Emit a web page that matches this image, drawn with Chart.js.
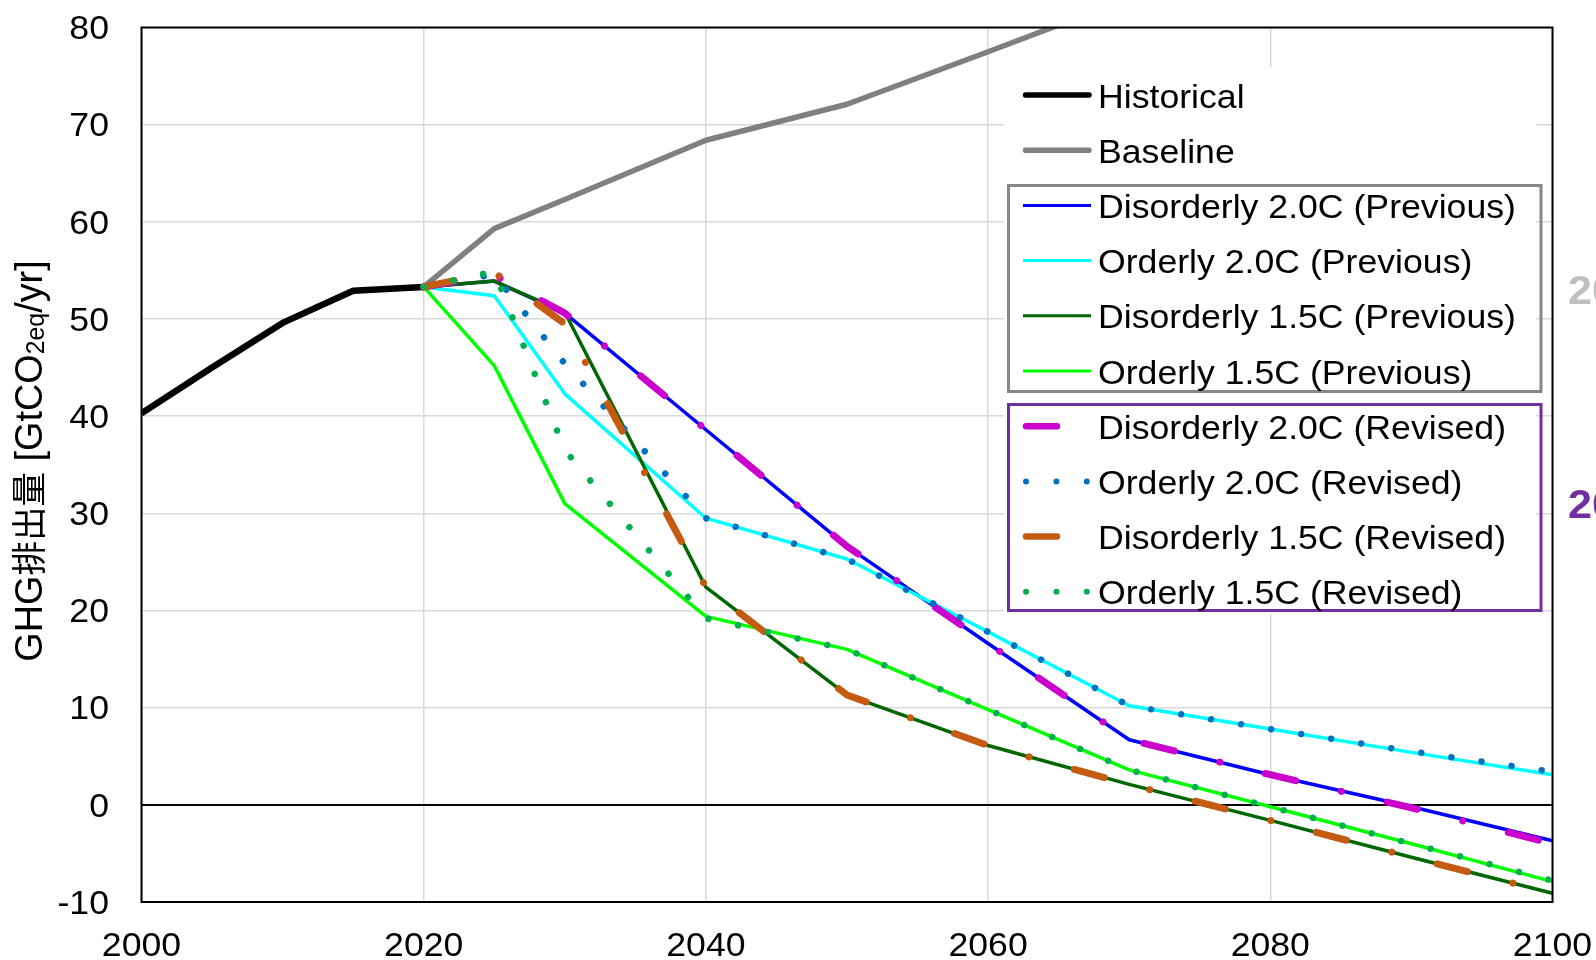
<!DOCTYPE html>
<html>
<head>
<meta charset="utf-8">
<title>GHG emissions scenarios</title>
<script src="https://cdn.jsdelivr.net/npm/chart.js@4.4.0/dist/chart.umd.min.js"></script>
<style>
  html, body { margin: 0; padding: 0; background: #fff; }
  #wrap { width: 1596px; height: 960px; position: relative; }
</style>
</head>
<body>
<div id="wrap"><canvas id="ghgChart"></canvas></div>
<script>
// ---- data (GtCO2eq/yr) ----
const histYears = [2000, 2005, 2010, 2015, 2020];
const historical = [40.3, 45.0, 49.6, 52.9, 53.3];

const baseYears = [2020, 2025, 2030, 2040, 2050, 2060, 2070];
const baseline = [53.3, 59.3, 62.3, 68.4, 72.1, 77.5, 83.0];

const scenYears = [2020, 2025, 2030, 2040, 2050, 2060, 2070, 2080, 2090, 2100];
const dis20Prev = [53.3, 53.9, 50.6, 38.6, 26.6, 16.6, 6.7, 3.1, -0.2, -3.7];
const ord20Prev = [53.3, 52.4, 42.3, 29.5, 25.3, 17.8, 10.2, 7.8, 5.4, 3.1];
const dis15Prev = [53.3, 53.9, 50.7, 22.4, 11.3, 6.1, 2.1, -1.6, -5.4, -9.1];
const ord15Prev = [53.3, 45.2, 31.0, 19.4, 16.0, 9.8, 3.6, -0.2, -4.0, -7.9];
const dis20Rev = [53.3, 54.5, 50.6, 38.6, 26.6, 16.6, 6.7, 3.1, -0.3, -4.0];
const ord20Rev = [53.3, 54.6, 45.4, 29.5, 25.3, 17.8, 10.2, 7.8, 5.5, 3.4];
const dis15Rev = [53.3, 54.8, 49.5, 22.4, 11.3, 6.1, 2.1, -1.6, -5.4, -9.1];
const ord15Rev = [53.3, 54.9, 36.5, 19.2, 16.0, 9.8, 3.6, -0.2, -4.0, -7.8];

const seriesNames = [
  "Historical",
  "Baseline",
  "Disorderly 2.0C (Previous)",
  "Orderly 2.0C (Previous)",
  "Disorderly 1.5C (Previous)",
  "Orderly 1.5C (Previous)",
  "Disorderly 2.0C (Revised)",
  "Orderly 2.0C (Revised)",
  "Disorderly 1.5C (Revised)",
  "Orderly 1.5C (Revised)",
];
const seriesYears = [histYears, baseYears, scenYears, scenYears, scenYears, scenYears, scenYears, scenYears, scenYears, scenYears];
const seriesValues = [historical, baseline, dis20Prev, ord20Prev, dis15Prev, ord15Prev, dis20Rev, ord20Rev, dis15Rev, ord15Rev];

const xTicks = [2000, 2020, 2040, 2060, 2080, 2100];
const yTicks = [-10, 0, 10, 20, 30, 40, 50, 60, 70, 80];
const yTitleHead = "GHG";
const yTitleCjk = "排出量";
const yTitleMain = " [GtCO";
const yTitleSub = "2eq";
const yTitleEnd = "/yr]";
const sideLabels = ["20", "20"];

// ---- styles ----
const dashDot = [31, 47, 0.01, 47];
const dotted = [0.01, 30.4];
const styles = [
  { color: "#000000", width: 6.5, dash: [] },
  { color: "#808080", width: 5.5, dash: [] },
  { color: "#0000ff", width: 3.5, dash: [] },
  { color: "#00ffff", width: 3.5, dash: [] },
  { color: "#006600", width: 3.5, dash: [] },
  { color: "#00ff00", width: 3.5, dash: [] },
  { color: "#cc00cc", width: 7, dash: dashDot },
  { color: "#0070c0", width: 6.5, dash: dotted },
  { color: "#c55a11", width: 7, dash: dashDot },
  { color: "#00b050", width: 6.5, dash: dotted },
];

const STRETCH = 1.08; // reference text is a bit wide
const FONT = "'Liberation Sans', Arial, sans-serif";
const CJK = "'Noto Sans CJK JP', sans-serif";

function wideText(ctx, text, x, y, align, font, color) {
  ctx.save();
  ctx.font = font;
  ctx.fillStyle = color;
  ctx.textAlign = align;
  ctx.textBaseline = "alphabetic";
  ctx.translate(x, y);
  ctx.scale(STRETCH, 1);
  ctx.fillText(text, 0, 0);
  ctx.restore();
}

const datasets = seriesNames.map((name, i) => ({
  label: name,
  data: seriesYears[i].map((yr, k) => ({ x: yr, y: seriesValues[i][k] })),
  borderColor: styles[i].color,
  backgroundColor: styles[i].color,
  borderWidth: styles[i].width,
  borderDash: styles[i].dash,
  borderCapStyle: styles[i].dash.length ? "round" : "butt",
  borderJoinStyle: "round",
  pointRadius: 0,
  tension: 0,
  fill: false,
  order: seriesNames.length - i, // later series on top
}));

// labels, title, legend and frame drawn on top
const overlay = {
  id: "overlay",
  afterDraw(chart) {
    const ctx = chart.ctx;
    const area = chart.chartArea;
    const xs = chart.scales.x;
    const ys = chart.scales.y;

    // tick labels
    xs.ticks.forEach((t) => {
      wideText(ctx, String(t.value), xs.getPixelForValue(t.value), area.bottom + 53.5, "center", "33px " + FONT, "#000");
    });
    ys.ticks.forEach((t) => {
      wideText(ctx, String(t.value), area.left - 32.5, ys.getPixelForValue(t.value) + 11.8, "right", "33px " + FONT, "#000");
    });

    // y title with subscript
    const parts = [
      { t: yTitleHead, f: "35px " + FONT, dy: 12 },
      { t: yTitleCjk, f: "32px " + CJK, dy: 12 },
      { t: yTitleMain, f: "35px " + FONT, dy: 12 },
      { t: yTitleSub, f: "23px " + FONT, dy: 14 },
      { t: yTitleEnd, f: "35px " + FONT, dy: 12 },
    ];
    ctx.save();
    ctx.translate(29, 461);
    ctx.scale(1.1, 1.08);
    ctx.rotate(-Math.PI / 2);
    ctx.fillStyle = "#000";
    ctx.textBaseline = "alphabetic";
    ctx.textAlign = "left";
    let total = 0;
    parts.forEach((p) => { ctx.font = p.f; p.w = ctx.measureText(p.t).width; total += p.w; });
    let px = -total / 2;
    parts.forEach((p) => { ctx.font = p.f; ctx.fillText(p.t, px, p.dy); px += p.w; });
    ctx.restore();

    // legend
    ctx.save();
    ctx.fillStyle = "#fff";
    ctx.fillRect(1004, 67, 532, 547);
    ctx.lineWidth = 3;
    ctx.strokeStyle = "#878787";
    ctx.strokeRect(1008.5, 185.5, 532.5, 206);
    ctx.strokeStyle = "#7030a0";
    ctx.strokeRect(1008.5, 404.5, 532.5, 206);
    ctx.restore();

    seriesNames.forEach((name, i) => {
      const st = styles[i];
      const cy = 95 + 55.2 * i;
      ctx.save();
      ctx.strokeStyle = st.color;
      ctx.lineWidth = i < 2 ? 5.5 : (st.dash.length ? st.width - 0.5 : 3);
      ctx.setLineDash(st.dash);
      ctx.lineCap = (i < 2 || st.dash.length) ? "round" : "butt";
      ctx.beginPath();
      if (i < 2) { ctx.moveTo(1025.5, cy); ctx.lineTo(1089, cy); }
      else if (st.dash.length) { ctx.moveTo(1026, cy); ctx.lineTo(1089, cy); }
      else { ctx.moveTo(1023, cy); ctx.lineTo(1091, cy); }
      ctx.stroke();
      ctx.restore();
      wideText(ctx, name, 1098, cy + 12.5, "left", "33px " + FONT, "#000");
    });

    // plot frame
    ctx.save();
    ctx.strokeStyle = "#000";
    ctx.lineWidth = 2;
    ctx.strokeRect(area.left, area.top, area.right - area.left, area.bottom - area.top);
    ctx.restore();

    // labels cut off at the right edge
    wideText(ctx, sideLabels[0], 1568, 303.5, "left", "bold 40px " + FONT, "#bfbfbf");
    wideText(ctx, sideLabels[1], 1568, 518, "left", "bold 40px " + FONT, "#7030a0");
  },
};

new Chart(document.getElementById("ghgChart"), {
  type: "line",
  data: { datasets },
  options: {
    responsive: true,
    maintainAspectRatio: false,
    animation: false,
    layout: { padding: { left: 0, right: 43.5, top: 27.5, bottom: 0 } },
    plugins: { legend: { display: false }, tooltip: { enabled: false } },
    scales: {
      x: {
        type: "linear",
        min: 2000,
        max: 2100,
        afterBuildTicks: (s) => { s.ticks = xTicks.map((v) => ({ value: v })); },
        afterFit: (s) => { s.height = 58; },
        ticks: { display: false },
        grid: { color: "#d9d9d9", lineWidth: 1.5, drawTicks: false },
        border: { display: false },
      },
      y: {
        type: "linear",
        min: -10,
        max: 80,
        afterBuildTicks: (s) => { s.ticks = yTicks.map((v) => ({ value: v })); },
        afterFit: (s) => { s.width = 141.5; },
        ticks: { display: false },
        grid: {
          color: (c) => (c.tick && c.tick.value === 0 ? "#000" : "#d9d9d9"),
          lineWidth: (c) => (c.tick && c.tick.value === 0 ? 2 : 1.5),
          drawTicks: false,
        },
        border: { display: false },
      },
    },
  },
  plugins: [overlay],
});
</script>
</body>
</html>
